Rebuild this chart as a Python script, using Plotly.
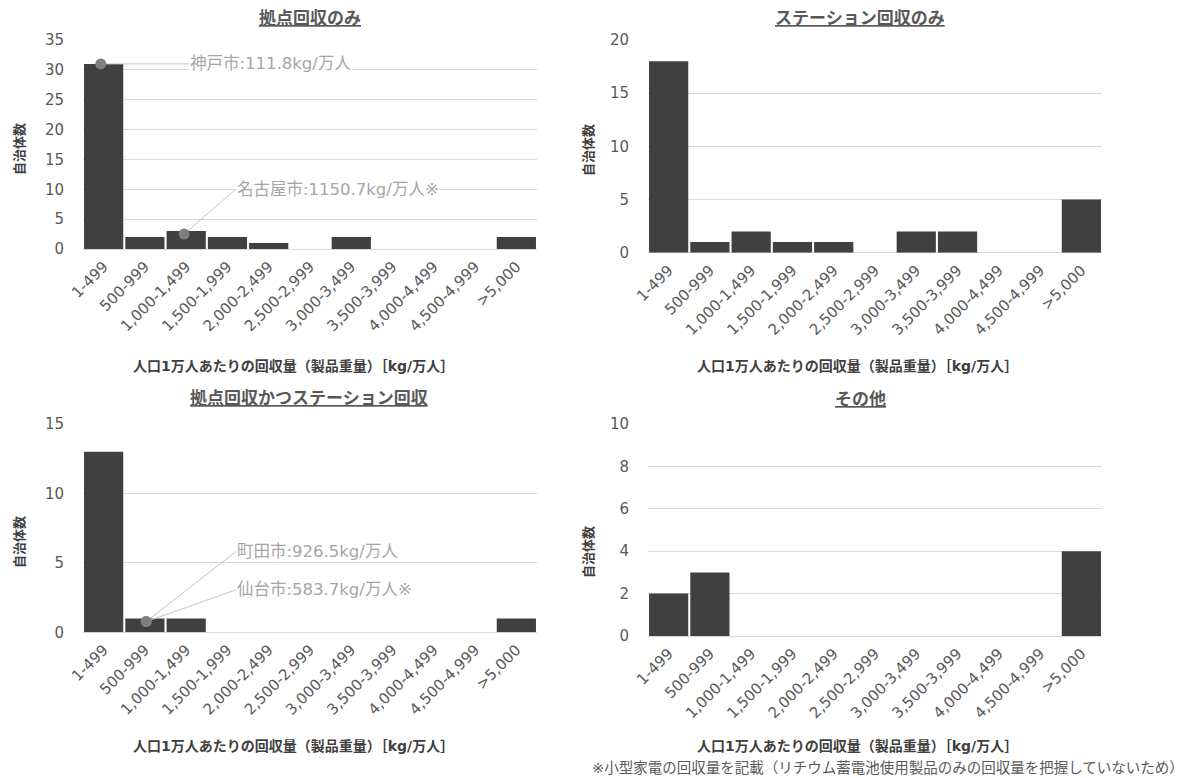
import plotly.graph_objects as go
from plotly.subplots import make_subplots

W, H = 1188, 778
FONT = "DejaVu Sans, Noto Sans CJK JP"

bins = ["1-499", "500-999", "1,000-1,499", "1,500-1,999", "2,000-2,499",
        "2,500-2,999", "3,000-3,499", "3,500-3,999", "4,000-4,499",
        "4,500-4,999", ">5,000"]

kyoten_only = [31, 2, 3, 2, 1, 0, 2, 0, 0, 0, 2]
station_only = [18, 1, 2, 1, 1, 0, 2, 2, 0, 0, 5]
kyoten_and_station = [13, 1, 1, 0, 0, 0, 0, 0, 0, 0, 1]
sonota = [2, 3, 0, 0, 0, 0, 0, 0, 0, 0, 4]

titles = ["拠点回収のみ", "ステーション回収のみ", "拠点回収かつステーション回収", "その他"]
y_max = [35, 20, 15, 10]
y_dtick = [5, 5, 5, 2]

x_title = "人口1万人あたりの回収量（製品重量）［kg/万人］"
y_title = "自治体数"
footnote = "※小型家電の回収量を記載（リチウム蓄電池使用製品のみの回収量を把握していないため）"

# callouts: (panel, label, marker x, marker y, label x, label y)
callouts = [
    (0, "神戸市:111.8kg/万人", -0.07, 31, 2.08, 31),
    (0, "名古屋市:1150.7kg/万人※", 1.95, 2.5, 3.2, 10.0),
    (2, "町田市:926.5kg/万人", 1.03, 0.77, 3.2, 5.8),
    (2, "仙台市:583.7kg/万人※", 1.03, 0.77, 3.2, 3.05),
]

series = [kyoten_only, station_only, kyoten_and_station, sonota]

# pixel boxes of the four plot areas (left, right, top, bottom)
boxes = [(83, 537, 40, 249), (648, 1102, 40, 252.7),
         (83, 537, 424, 632.3), (648, 1102, 424, 636)]
title_pos = [(310, 18), (860, 18), (309, 398), (860, 399)]
xtitle_pos = [(293, 366), (857, 366), (293, 746), (857, 746)]
ytitle_pos = [(19, 149), (588, 150), (19, 542), (588, 552)]


def axis_suffix(k):
    return "" if k == 0 else str(k + 1)


fig = make_subplots(rows=2, cols=2)

for k, vals in enumerate(series):
    r, c = k // 2 + 1, k % 2 + 1
    fig.add_trace(
        go.Bar(
            x=list(range(len(bins))),
            y=vals,
            marker=dict(color="#404040", line=dict(width=0)),
            showlegend=False,
        ),
        row=r, col=c,
    )

for p, label, mx, my, lx, ly in callouts:
    r, c = p // 2 + 1, p % 2 + 1
    fig.add_trace(
        go.Scatter(
            x=[mx, lx], y=[my, ly], mode="lines",
            line=dict(color="#c4c4c4", width=1),
            showlegend=False, hoverinfo="skip",
        ),
        row=r, col=c,
    )
    fig.add_trace(
        go.Scatter(
            x=[mx], y=[my], mode="markers",
            marker=dict(color="#7f7f7f", size=11),
            showlegend=False, hoverinfo="skip",
        ),
        row=r, col=c,
    )
    fig.add_annotation(
        x=lx, y=ly, xref="x" + axis_suffix(p), yref="y" + axis_suffix(p),
        text=label, showarrow=False, xanchor="left", yanchor="middle",
        font=dict(family=FONT, size=16.5, color="#a6a6a6"),
        bgcolor="white", borderpad=0,
    )

for k in range(4):
    l, rgt, t, b = boxes[k]
    r, c = k // 2 + 1, k % 2 + 1
    fig.update_xaxes(
        domain=[l / W, rgt / W], range=[-0.5, len(bins) - 0.5],
        tickmode="array", tickvals=list(range(len(bins))), ticktext=bins,
        tickangle=-45, tickfont=dict(family=FONT, size=15, color="#595959"),
        showgrid=False, showline=False, zeroline=False, ticks="",
        ticklabelstandoff=5, automargin=False,
        row=r, col=c,
    )
    fig.update_yaxes(
        domain=[1 - b / H, 1 - t / H], range=[0, y_max[k]], dtick=y_dtick[k],
        tickfont=dict(family=FONT, size=15, color="#595959"),
        showgrid=True, gridcolor="#d9d9d9", gridwidth=1,
        zeroline=True, zerolinecolor="#d9d9d9", zerolinewidth=1,
        showline=False, ticks="", ticklabelstandoff=18,
        automargin=False,
        row=r, col=c,
    )
    tx, ty = title_pos[k]
    fig.add_annotation(
        x=tx / W, y=1 - ty / H, xref="paper", yref="paper",
        xanchor="center", yanchor="middle",
        text=f"<u><b>{titles[k]}</b></u>", showarrow=False,
        font=dict(family=FONT, size=17, color="#595959"),
    )
    xx, xy = xtitle_pos[k]
    fig.add_annotation(
        x=xx / W, y=1 - xy / H, xref="paper", yref="paper",
        xanchor="center", yanchor="middle",
        text=f"<b>{x_title}</b>", showarrow=False,
        font=dict(family=FONT, size=14, color="#404040"),
    )
    yx, yy = ytitle_pos[k]
    fig.add_annotation(
        x=yx / W, y=1 - yy / H, xref="paper", yref="paper",
        xanchor="center", yanchor="middle",
        text=f"<b>{y_title}</b>", showarrow=False, textangle=-90,
        font=dict(family=FONT, size=13, color="#404040"),
    )

fig.add_annotation(
    x=1186 / W, y=1 - 768 / H, xref="paper", yref="paper",
    xanchor="right", yanchor="middle",
    text=footnote, showarrow=False,
    font=dict(family=FONT, size=14.5, color="#595959"),
)

fig.update_layout(
    width=W, height=H,
    margin=dict(l=0, r=0, t=0, b=0, autoexpand=False),
    paper_bgcolor="white", plot_bgcolor="white",
    bargap=0.05,
    font=dict(family=FONT),
)

fig.write_html(
    "out.html",
    config={"displayModeBar": False},
    post_script="document.body.style.margin='0';document.body.style.overflow='hidden';",
)
